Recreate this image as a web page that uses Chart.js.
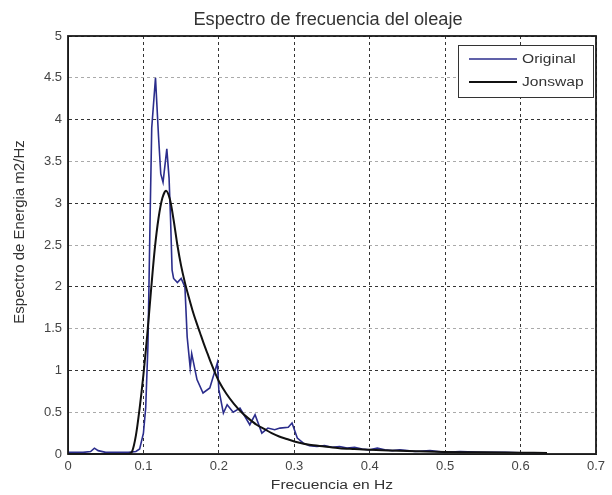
<!DOCTYPE html>
<html>
<head>
<meta charset="utf-8">
<script src="https://cdn.jsdelivr.net/npm/chart.js@4.4.1/dist/chart.umd.min.js"></script>
<style>
    html, body { margin: 0; padding: 0; background: #fff; }
    #wrap { width: 612px; height: 495px; }
</style>
</head>
<body>
<div id="wrap"><canvas id="specChart" width="612" height="495"></canvas></div>
<script>
// 데이터
const freqOriginal = [0, 0.01, 0.02, 0.03, 0.035, 0.04, 0.05, 0.06, 0.07, 0.08, 0.09, 0.095, 0.1, 0.103, 0.106, 0.109, 0.111, 0.116, 0.12, 0.123, 0.126, 0.131, 0.134, 0.136, 0.138, 0.14, 0.145, 0.15, 0.155, 0.158, 0.162, 0.164, 0.171, 0.179, 0.188, 0.198, 0.2, 0.206, 0.211, 0.219, 0.228, 0.241, 0.248, 0.257, 0.265, 0.274, 0.281, 0.292, 0.297, 0.304, 0.312, 0.32, 0.33, 0.34, 0.35, 0.36, 0.37, 0.38, 0.39, 0.4, 0.41, 0.42, 0.43, 0.44, 0.45, 0.46, 0.48, 0.5, 0.52, 0.55, 0.58, 0.6, 0.635];
const specOriginal = [0.02, 0.02, 0.02, 0.03, 0.07, 0.04, 0.02, 0.02, 0.02, 0.02, 0.03, 0.06, 0.25, 0.55, 1.3, 2.9, 3.9, 4.5, 3.8, 3.35, 3.25, 3.65, 3.3, 2.8, 2.2, 2.1, 2.05, 2.1, 2.0, 1.4, 1.03, 1.2, 0.89, 0.73, 0.79, 1.09, 0.77, 0.49, 0.59, 0.5, 0.55, 0.35, 0.47, 0.25, 0.31, 0.29, 0.31, 0.32, 0.37, 0.19, 0.13, 0.1, 0.09, 0.1, 0.08, 0.09, 0.07, 0.08, 0.06, 0.05, 0.07, 0.05, 0.04, 0.05, 0.04, 0.03, 0.04, 0.02, 0.03, 0.02, 0.02, 0.015, 0.015];

const freqJonswap = [0, 0.08, 0.085, 0.09, 0.095, 0.1, 0.105, 0.11, 0.115, 0.12, 0.125, 0.13, 0.135, 0.14, 0.145, 0.15, 0.155, 0.16, 0.165, 0.17, 0.175, 0.18, 0.185, 0.19, 0.195, 0.2, 0.21, 0.22, 0.23, 0.24, 0.25, 0.26, 0.27, 0.28, 0.29, 0.3, 0.32, 0.34, 0.36, 0.38, 0.4, 0.45, 0.5, 0.55, 0.6, 0.635];
const specJonswap = [0, 0, 0.03, 0.22, 0.55, 0.95, 1.42, 1.95, 2.45, 2.82, 3.06, 3.15, 3.05, 2.8, 2.5, 2.25, 2.05, 1.88, 1.72, 1.58, 1.45, 1.32, 1.2, 1.08, 0.97, 0.87, 0.72, 0.6, 0.5, 0.42, 0.35, 0.3, 0.25, 0.21, 0.18, 0.15, 0.11, 0.09, 0.07, 0.06, 0.05, 0.035, 0.025, 0.02, 0.015, 0.012];

const seriesLabels = ['Original', 'Jonswap'];
const xTickLabels = ['0', '0.1', '0.2', '0.3', '0.4', '0.5', '0.6', '0.7'];
const yTickLabels = ['0', '0.5', '1', '1.5', '2', '2.5', '3', '3.5', '4', '4.5', '5'];

const chartTitle = 'Espectro de frecuencia del oleaje';
const xTitle = 'Frecuencia en Hz';
const yTitle = 'Espectro de Energia m2/Hz';

const textColor = '#333';
const fontFamily = '"Liberation Sans", Arial, sans-serif';

// 가로로 늘린 텍스트 그리기
function stretchedText(ctx, text, x, y, size, sx, align) {
    ctx.save();
    ctx.font = `${size}px ${fontFamily}`;
    ctx.fillStyle = textColor;
    ctx.textAlign = align || 'center';
    ctx.textBaseline = 'alphabetic';
    ctx.translate(x, y);
    ctx.scale(sx, 1);
    ctx.fillText(text, 0, 0);
    ctx.restore();
}

// 박스, 제목, 범례 플러그인
const matlabFrame = {
    id: 'matlabFrame',
    afterDraw(chart) {
        const { ctx, chartArea: a } = chart;
        ctx.save();
        ctx.strokeStyle = '#1a1a1a';
        ctx.lineWidth = 1.8;
        ctx.strokeRect(a.left, a.top, a.right - a.left, a.bottom - a.top);

        // 제목
        stretchedText(ctx, chartTitle, 328, 25, 17.5, 1.04, 'center');
        // x축 제목
        stretchedText(ctx, xTitle, (a.left + a.right) / 2, 489, 12, 1.3, 'center');
        // y축 제목 (회전)
        ctx.save();
        ctx.translate(24, 232);
        ctx.rotate(-Math.PI / 2);
        ctx.font = `15px ${fontFamily}`;
        ctx.fillStyle = textColor;
        ctx.textAlign = 'center';
        ctx.fillText(yTitle, 0, 0);
        ctx.restore();

        // 범례
        const lx = 458, ly = 45, lw = 135, lh = 52;
        ctx.fillStyle = '#fff';
        ctx.fillRect(lx, ly, lw, lh);
        ctx.strokeStyle = '#333';
        ctx.lineWidth = 1;
        ctx.strokeRect(lx + 0.5, ly + 0.5, lw, lh);
        chart.data.datasets.forEach((ds, i) => {
            const yy = ly + 14 + i * 23;
            ctx.strokeStyle = ds.borderColor;
            ctx.lineWidth = ds.borderWidth;
            ctx.beginPath();
            ctx.moveTo(lx + 11, yy);
            ctx.lineTo(lx + 59, yy);
            ctx.stroke();
            stretchedText(ctx, ds.label, lx + 64, yy + 4, 12, 1.3, 'left');
        });
        ctx.restore();
    }
};

const ctx = document.getElementById('specChart').getContext('2d');

new Chart(ctx, {
    type: 'line',
    data: {
        datasets: [
            {
                label: seriesLabels[0],
                data: freqOriginal.map((f, i) => ({ x: f, y: specOriginal[i] })),
                borderColor: '#2b2d8c',
                borderWidth: 1.6,
                pointRadius: 0,
                tension: 0,
                order: 1
            },
            {
                label: seriesLabels[1],
                data: freqJonswap.map((f, i) => ({ x: f, y: specJonswap[i] })),
                borderColor: '#111111',
                borderWidth: 2,
                pointRadius: 0,
                tension: 0.3,
                order: 0
            }
        ]
    },
    options: {
        responsive: false,
        animation: false,
        layout: { padding: { top: 36, right: 16, left: 0, bottom: 0 } },
        plugins: {
            legend: { display: false },
            title: { display: false },
            tooltip: { enabled: false }
        },
        scales: {
            x: {
                type: 'linear',
                min: 0,
                max: 0.7,
                afterFit: (scale) => { scale.height = 41; },
                afterBuildTicks: (scale) => {
                    scale.ticks = xTickLabels.map(t => ({ value: Number(t) }));
                },
                ticks: {
                    padding: 5,
                    color: '#444',
                    font: { family: fontFamily, size: 13 },
                    maxRotation: 0,
                    callback: (v, i) => xTickLabels[i]
                },
                grid: {
                    color: '#333',
                    lineWidth: 1,
                    drawTicks: false
                },
                border: { display: true, color: '#222', dash: [3, 3] }
            },
            y: {
                type: 'linear',
                min: 0,
                max: 5,
                afterFit: (scale) => { scale.width = 68; },
                afterBuildTicks: (scale) => {
                    scale.ticks = yTickLabels.map(t => ({ value: Number(t) }));
                },
                ticks: {
                    padding: 6,
                    color: '#444',
                    font: { family: fontFamily, size: 13 },
                    callback: (v, i) => yTickLabels[i]
                },
                grid: {
                    color: (c) => (c.tick && c.tick.value % 1 === 0) ? '#333' : '#aaa',
                    lineWidth: 1,
                    drawTicks: false
                },
                border: { display: true, color: '#222', dash: [3, 3] }
            }
        }
    },
    plugins: [matlabFrame]
});
</script>
</body>
</html>
